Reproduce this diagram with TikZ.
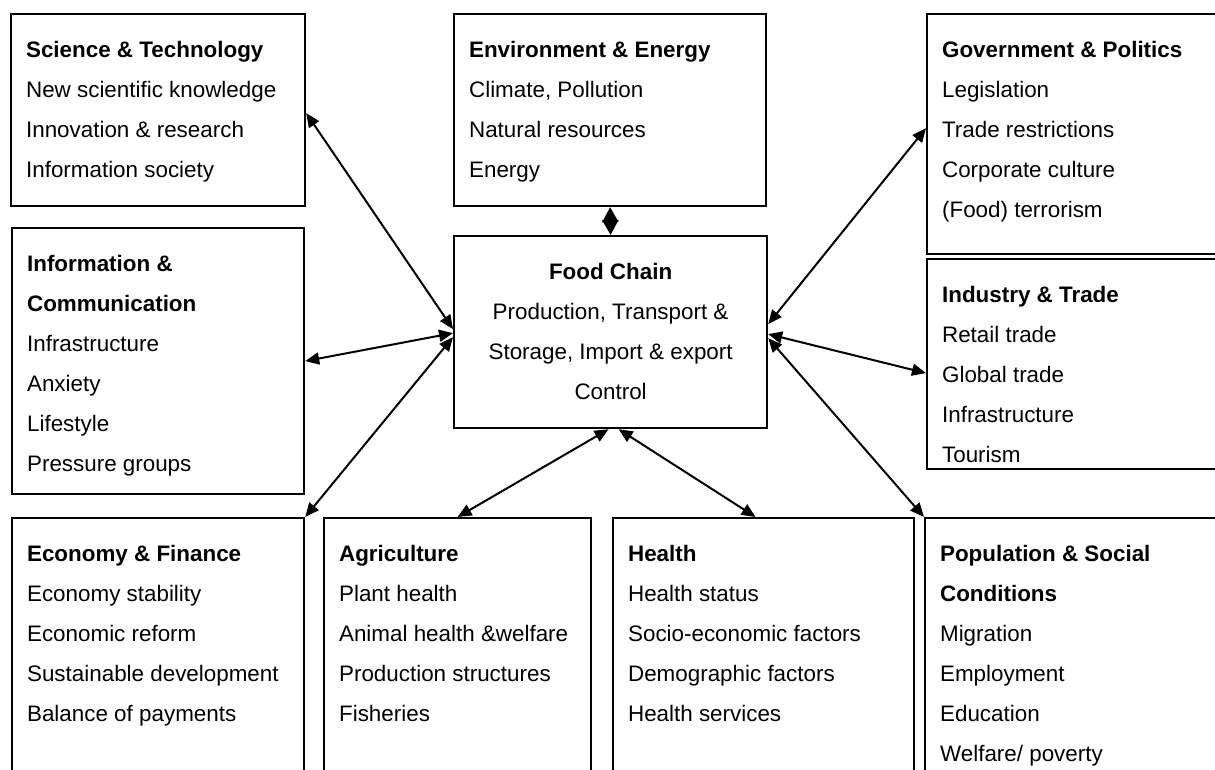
\documentclass[tikz,border=0pt]{standalone}
\usepackage{fontspec}
\setmainfont{Liberation Sans}
\usetikzlibrary{arrows.meta}
\tikzstyle{catbox} = [draw=black, line width=2.2pt, rectangle, anchor=north west,
    inner xsep=15pt, inner ysep=0pt, font=\fontsize{22.4}{40}\selectfont]
\tikzstyle{twoway} = [line width=2pt,
    {Triangle[length=14pt,width=12pt]}-{Triangle[length=14pt,width=12pt]}]
\newcommand{\catpanel}[3]{\begin{minipage}[c][#2pt][t]{#1pt}\raggedright\rule{0pt}{43pt}\ignorespaces#3\end{minipage}}

\begin{document}
\begin{tikzpicture}[x=1pt, y=-1pt]
    \useasboundingbox (0,0) rectangle (1215,769);
    \clip (0,0) rectangle (1215,769);

    \node [catbox] (sci) at (10,13) {\catpanel{264}{192}{
        \textbf{Science \& Technology}\\
        New scientific knowledge\\
        Innovation \& research\\
        Information society}};
    \node [catbox] (env) at (453,13) {\catpanel{282}{192}{
        \textbf{Environment \& Energy}\\
        Climate, Pollution\\
        Natural resources\\
        Energy}};
    \node [catbox] (gov) at (926,13) {\catpanel{284}{240}{
        \textbf{Government \& Politics}\\
        Legislation\\
        Trade restrictions\\
        Corporate culture\\
        (Food) terrorism}};
    \node [catbox] (info) at (11,227) {\catpanel{262}{266}{
        \textbf{Information \&}\\
        \textbf{Communication}\\
        Infrastructure\\
        Anxiety\\
        Lifestyle\\
        Pressure groups}};
    \node [catbox] (fc) at (453,235) {\catpanel{283}{192}{\centering
        \textbf{Food Chain}\\
        Production, Transport \&\\
        Storage, Import \& export\\
        Control}};
    \node [catbox] (ind) at (926,258) {\catpanel{284}{210}{
        \textbf{Industry \& Trade}\\
        Retail trade\\
        Global trade\\
        Infrastructure\\
        Tourism}};
    \node [catbox] (econ) at (11,517) {\catpanel{262}{283}{
        \textbf{Economy \& Finance}\\
        Economy stability\\
        Economic reform\\
        Sustainable development\\
        Balance of payments}};
    \node [catbox] (agri) at (323,517) {\catpanel{237}{283}{
        \textbf{Agriculture}\\
        Plant health\\
        Animal health \&welfare\\
        Production structures\\
        Fisheries}};
    \node [catbox] (health) at (612,517) {\catpanel{271}{283}{
        \textbf{Health}\\
        Health status\\
        Socio-economic factors\\
        Demographic factors\\
        Health services}};
    \node [catbox] (pop) at (924,517) {\catpanel{286}{283}{
        \textbf{Population \& Social}\\
        \textbf{Conditions}\\
        Migration\\
        Employment\\
        Education\\
        Welfare/ poverty}};

    \draw [twoway] ([yshift=-3pt]sci.east) -- ([yshift=3pt]fc.west);
    \draw [twoway] (info.east) -- ([yshift=-1pt]fc.west);
    \draw [twoway] (econ.north east) -- ([yshift=-5pt]fc.west);
    \draw [twoway] (agri.north) -- ([xshift=-2pt]fc.south);
    \draw [twoway] ([xshift=-8pt]health.north) -- ([xshift=8pt]fc.south);
    \draw [twoway] (pop.north west) -- ([yshift=-6pt]fc.east);
    \draw [twoway] ([yshift=-9pt]ind.west) -- ([yshift=-2pt]fc.east);
    \draw [twoway] ([yshift=6pt]gov.west) -- ([yshift=8pt]fc.east);
    \draw [line width=2pt, {Triangle[length=15pt,width=16pt]}-{Triangle[length=15pt,width=16pt]}]
        (env.south) -- (fc.north);
\end{tikzpicture}
\end{document}
